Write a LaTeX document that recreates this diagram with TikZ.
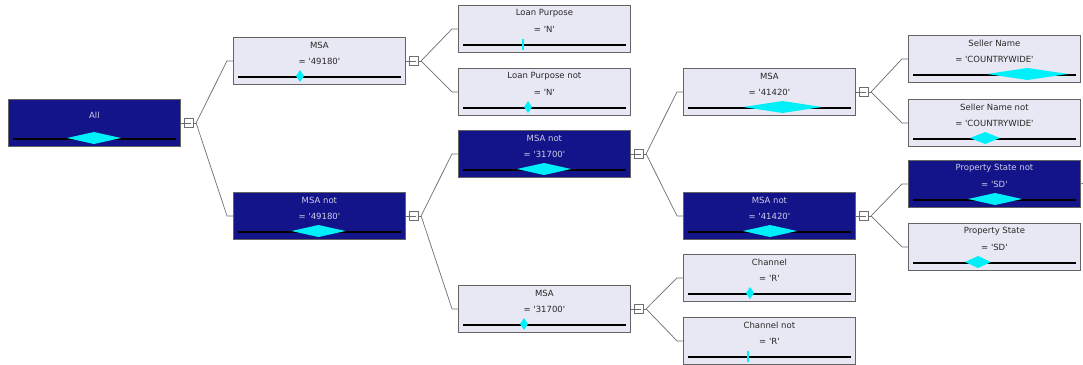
\documentclass[tikz,border=0pt]{standalone}
\usepackage{fontspec}
\setmainfont{DejaVu Sans}[Ligatures=TeXOff]
\usetikzlibrary{calc}
\definecolor{darkfill}{RGB}{20,20,138}
\definecolor{lightfill}{RGB}{232,232,244}
\definecolor{boxborder}{RGB}{100,100,100}
\definecolor{darktext}{RGB}{205,205,230}
\definecolor{lighttext}{RGB}{40,40,40}
\definecolor{linegray}{RGB}{110,110,110}
\definecolor{markcyan}{RGB}{0,240,250}
\tikzset{
  basebox/.style={draw=boxborder, line width=0.8pt, minimum width=172pt, minimum height=47pt, anchor=north west, inner sep=0pt},
  darkbox/.style={basebox, fill=darkfill},
  lightbox/.style={basebox, fill=lightfill},
  darktxt/.style={text=darktext, font=\fontsize{8.5}{10}\selectfont, inner sep=0pt},
  lighttxt/.style={text=lighttext, font=\fontsize{8.5}{10}\selectfont, inner sep=0pt},
  bar/.style={line width=2.6pt, black},
  marker/.style={fill=markcyan},
  tickmark/.style={draw=markcyan, line width=1.4pt},
  toggle/.style={draw=linegray, fill=white, minimum size=9pt, inner sep=0pt, line width=0.6pt},
  conn/.style={draw=linegray, line width=0.7pt},
}
\newcommand\treebox[6]{%
  \node[#2box] (#1) at (#3,#4) {};
  \node[#2txt] (#1-t) at ($(#1.north)+(0,8)$) {#5};
  \node[#2txt] (#1-v) at ($(#1.north)+(0,24)$) {#6};
  \draw[bar] ($(#1.south west)+(5,-8)$) -- ($(#1.south east)+(-5,-8)$);
}
\newcommand\dmd[3]{%
  \fill[marker] (#1-#3,#2) -- (#1,#2-6) -- (#1+#3,#2) -- (#1,#2+6) -- cycle;
}
\newcommand\tog[1]{%
  \node[toggle] (#1-tg) at ($(#1.east)+(7.5,0)$) {};
  \draw[linegray, line width=0.6pt] ($(#1-tg.center)+(-3,0)$) -- ($(#1-tg.center)+(3,0)$);
  \draw[conn] (#1.east) -- (#1-tg.west);
  \coordinate (#1-j) at ($(#1-tg.east)+(3,0)$);
  \draw[conn] (#1-tg.east) -- (#1-j);
}
\newcommand\link[2]{\draw[conn] (#1-j) -- ([xshift=-6pt]#2.west) -- (#2.west);}
\begin{document}
\begin{tikzpicture}[x=1pt,y=-1pt]
\fill[white] (0,0) rectangle (1083,364);
\useasboundingbox (0,0) rectangle (1083,364);

% root
\node[darkbox] (all) at (8,99) {};
\node[darktxt] (all-t) at ($(all.north)+(0,16)$) {All};
\draw[bar] ($(all.south west)+(5,-8)$) -- ($(all.south east)+(-5,-8)$);
\dmd{94}{138}{27}

% level 1
\treebox{m1}{light}{233}{37}{MSA}{= '49180'}
\dmd{300}{76}{4}
\treebox{m1n}{dark}{233}{192}{MSA not}{= '49180'}
\dmd{318.5}{231}{27}

% level 2
\treebox{lp}{light}{458}{5}{Loan Purpose}{= 'N'}
\draw[tickmark] (523,39) -- (523,50);
\treebox{lpn}{light}{458}{68}{Loan Purpose not}{= 'N'}
\dmd{528}{107}{4}
\treebox{m2n}{dark}{458}{130}{MSA not}{= '31700'}
\dmd{544}{169}{27}
\treebox{m2}{light}{458}{285}{MSA}{= '31700'}
\dmd{524}{324}{4}

% level 3
\treebox{m3}{light}{683}{68}{MSA}{= '41420'}
\dmd{782.5}{107}{39.5}
\treebox{m3n}{dark}{683}{192}{MSA not}{= '41420'}
\dmd{770}{231}{27}
\treebox{ch}{light}{683}{254}{Channel}{= 'R'}
\dmd{750}{293}{4}
\treebox{chn}{light}{683}{317}{Channel not}{= 'R'}
\draw[tickmark] (748,351) -- (748,362);

% level 4
\treebox{sn}{light}{908}{35}{Seller Name}{= 'COUNTRYWIDE'}
\dmd{1027.5}{74}{40.5}
\treebox{snn}{light}{908}{99}{Seller Name not}{= 'COUNTRYWIDE'}
\dmd{985}{138}{15}
\treebox{psn}{dark}{908}{160}{Property State not}{= 'SD'}
\dmd{995}{199}{27}
\treebox{ps}{light}{908}{223}{Property State}{= 'SD'}
\dmd{978}{262}{13}

% toggles and connectors
\tog{all}
\link{all}{m1}
\link{all}{m1n}
\tog{m1}
\link{m1}{lp}
\link{m1}{lpn}
\tog{m1n}
\link{m1n}{m2n}
\link{m1n}{m2}
\tog{m2n}
\link{m2n}{m3}
\link{m2n}{m3n}
\tog{m2}
\link{m2}{ch}
\link{m2}{chn}
\tog{m3}
\link{m3}{sn}
\link{m3}{snn}
\tog{m3n}
\link{m3n}{psn}
\link{m3n}{ps}
\coordinate (psn-out) at (1083,183.5);
\draw[conn] (psn.east) -- (psn-out);
\end{tikzpicture}
\end{document}
